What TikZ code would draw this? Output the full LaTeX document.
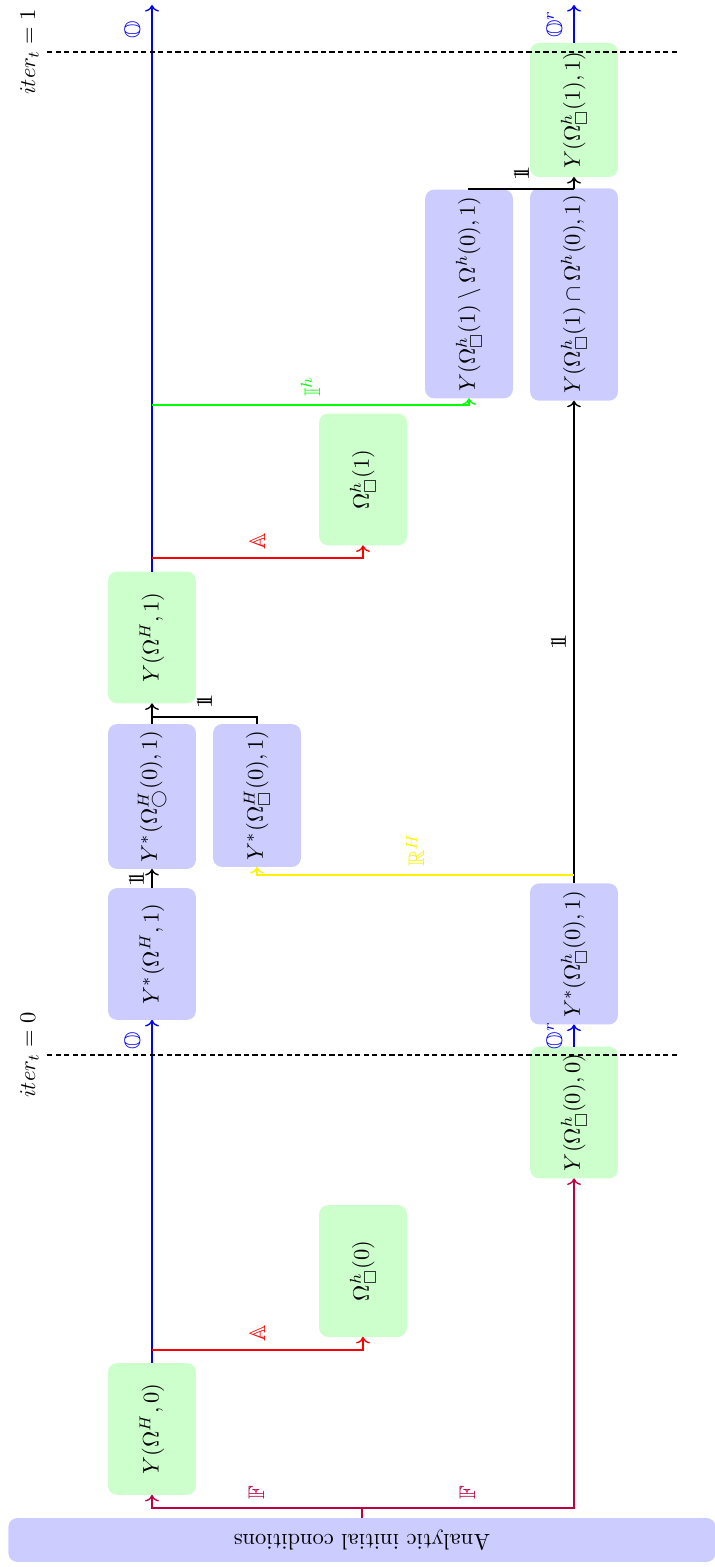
\documentclass[tikz,border=0pt]{standalone}
\usepackage{amsmath,amssymb}
\usepackage{tikz}
\usetikzlibrary{arrows.meta,positioning}
\newcommand{\unity}{\mathrm{1\!\!1}}
\tikzset{
    valuebox/.style={rounded corners=4pt, minimum height=39pt, minimum width=58.5pt,
    inner sep=3pt, outer sep=0pt},
    solved/.style={valuebox, fill=green!20},
    guessed/.style={valuebox, fill=blue!20},
    link/.style={semithick, ->},
    iterline/.style={thick, dash pattern=on 2.3pt off 1.5pt},
}

\begin{document}
\begin{tikzpicture}[x=0.444pt, y=0.444pt]
    \useasboundingbox (0,0) rectangle (715,1567);
    \begin{scope}[rotate=90, transform shape]
        % --- start ---
        \node[guessed, rotate=90, minimum width=314pt, minimum height=19.5pt] (ic) at (27,-362) {Analytic initial conditions};
        % --- step 0 ---
        \node[solved] (y0) at (138,-152) {$Y(\Omega^H,0)$};
        \node[solved] (om0) at (296,-363) {$\Omega^h_\square(0)$};
        \node[solved] (yh0) at (454.5,-574) {$Y(\Omega^h_\square(0),0)$};
        % --- step 1 ---
        \node[guessed] (ysH) at (613,-152) {$Y^*(\Omega^H,1)$};
        \node[guessed, minimum width=61.3pt] (ysh) at (613,-574) {$Y^*(\Omega^h_\square(0),1)$};
        \node[guessed, minimum width=63.5pt] (ysc) at (770.5,-152) {$Y^*(\Omega^H_\bigcirc(0),1)$};
        \node[guessed, minimum width=62.6pt] (yss) at (771.5,-257) {$Y^*(\Omega^H_\square(0),1)$};
        \node[solved] (y1) at (929.5,-152) {$Y(\Omega^H,1)$};
        \node[solved] (om1) at (1087.5,-363) {$\Omega^h_\square(1)$};
        \node[guessed, minimum width=90.6pt] (ydiff) at (1273,-469) {$Y(\Omega^h_\square(1)\setminus\Omega^h(0),1)$};
        \node[guessed, minimum width=92pt] (ycap) at (1272.5,-574) {$Y(\Omega^h_\square(1)\cap\Omega^h(0),1)$};
        \node[solved, minimum width=59.5pt] (yh1) at (1457,-574) {$Y(\Omega^h_\square(1),1)$};
        % --- points on the lines ---
        \coordinate (fsplit) at (59,-362);
        \coordinate (a0) at (217,-152);
        \coordinate (a1) at (1009,-152);
        \coordinate (i1) at (1162,-152);
        \coordinate (rsplit) at (692,-574);
        \coordinate (join1) at (850,-152);
        \coordinate (join2) at (1378,-574);
        \coordinate (oend) at (1562,-152);
        \coordinate (orend) at (1562,-574);
        % --- initial conditions ---
        \draw[semithick, purple] (ic) -- (fsplit);
        \draw[link, purple] (fsplit) |- (y0) node[pos=0.25, right] {$\mathbb{F}$};
        \draw[link, purple] (fsplit) |- (yh0) node[pos=0.25, right] {$\mathbb{F}$};
        % --- coarse line ---
        \draw[link, blue] (y0) -- (ysH) node[pos=0.94, above] {$\mathbb{O}$};
        \draw[link, blue] (y1) -- (oend) node[pos=0.956, above] {$\mathbb{O}$};
        \draw[link, red] (a0) |- (om0) node[pos=0.25, right] {$\mathbb{A}$};
        \draw[link, red] (a1) |- (om1) node[pos=0.25, right] {$\mathbb{A}$};
        \draw[link, green] (i1) |- (ydiff) node[pos=0.25, right] {$\mathbb{I}^h$};
        \draw[link] (ysH) -- (ysc) node[midway, above] {$\unity$};
        \draw[semithick] (yss) -| (join1) node[pos=0.75, right] {$\unity$};
        \draw[semithick] (ysc) -- (join1);
        \draw[link] (join1) -- (y1);
        % --- fine line ---
        \draw[link, blue] (yh0) -- (ysh) node[midway, above] {$\mathbb{O}^r$};
        \draw[link] (ysh) -- (ycap) node[midway, above] {$\unity$};
        \draw[link, yellow] (rsplit) |- (yss) node[pos=0.25, right] {$\mathbb{R}^H$};
        \draw[semithick] (ydiff) -| (join2) node[pos=0.75, right] {$\unity$};
        \draw[semithick] (ycap) -- (join2);
        \draw[link] (join2) -- (yh1);
        \draw[link, blue] (yh1) -- (orend) node[midway, above] {$\mathbb{O}^r$};
        % --- iterations ---
        \draw[iterline] (512,-677) -- (512,-47) node[above] {$iter_t = 0$};
        \draw[iterline] (1515,-677) -- (1515,-47) node[above] {$iter_t = 1$};
    \end{scope}
\end{tikzpicture}
\end{document}
